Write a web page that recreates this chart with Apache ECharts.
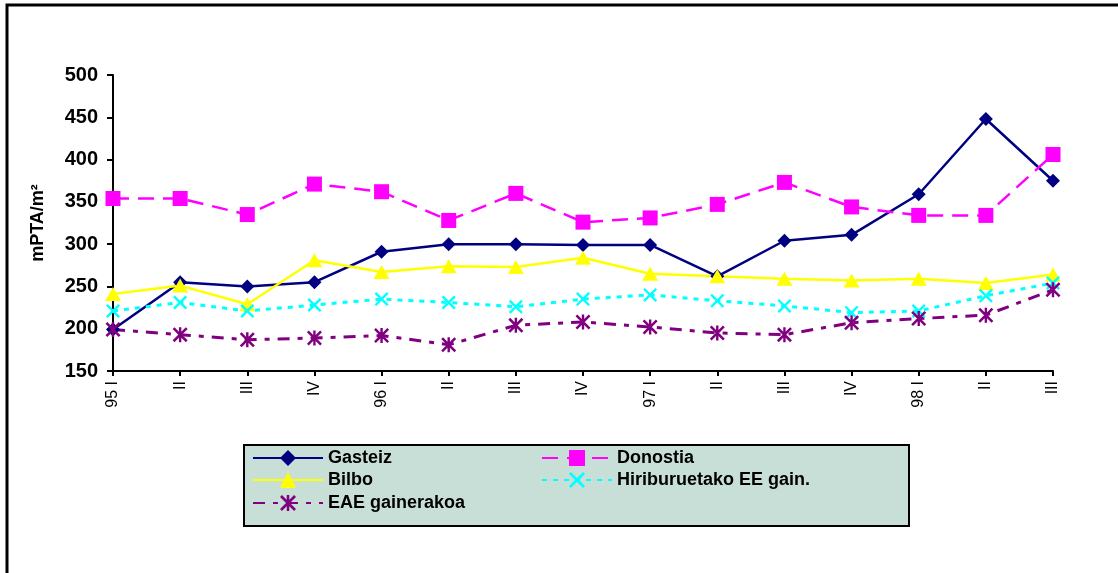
<!DOCTYPE html>
<html>
<head>
<meta charset="utf-8">
<script src="https://cdn.jsdelivr.net/npm/echarts@6/dist/echarts.min.js"></script>
<style>
html,body{margin:0;padding:0;background:#fff;}
#chart{width:1118px;height:573px;}
</style>
</head>
<body>
<div id="chart"></div>
<script>
const categories = ['95 I','II','III','IV','96 I','II','III','IV','97 I','II','III','IV','98 I','II','III'];
const gasteiz = [199, 255, 250, 255, 291, 300, 300, 299, 299, 262, 304, 311, 359, 448, 375];
const donostia = [354, 354, 335, 371, 362, 328, 360, 326, 331, 347, 373, 344, 334, 334, 406];
const bilbo = [241, 251, 229, 281, 267, 274, 273, 284, 265, 262, 259, 257, 259, 254, 264];
const hiriburuetako = [221, 231, 221, 228, 235, 231, 226, 235, 240, 233, 227, 219, 221, 239, 254];
const eae = [199, 193, 187, 189, 192, 181, 204, 208, 202, 195, 193, 207, 212, 216, 246];
const yTicks = {min: 150, max: 500, interval: 50};
const names = ['Gasteiz', 'Donostia', 'Bilbo', 'Hiriburuetako EE gain.', 'EAE gainerakoa'];

const FONT = '"Liberation Sans", Arial, sans-serif';
const xPath = 'path://M0,12L12,0L100,88L88,100Z M88,0L100,12L12,100L0,88Z';
const starPath = 'path://M0,12L12,0L100,88L88,100Z M88,0L100,12L12,100L0,88Z M42,0L58,0L58,100L42,100Z';

const chart = echarts.init(document.getElementById('chart'), null, {renderer: 'canvas'});

function legendAt(name, left, centerY) {
  return {
    data: [name], left: left, top: centerY - 10, orient: 'horizontal',
    itemWidth: 70, itemHeight: 20, itemGap: 0, padding: 0, selectedMode: false,
    textStyle: {fontFamily: FONT, fontSize: 18, fontWeight: 'bold', color: '#000'},
    z: 10
  };
}

const option = {
  animation: false,
  backgroundColor: '#fff',
  graphic: [
    {type: 'rect', shape: {x: 7, y: 5, width: 2000, height: 1000}, style: {fill: 'none', stroke: '#000', lineWidth: 3}, z: 1},
    {type: 'rect', shape: {x: 244, y: 445, width: 665, height: 81}, style: {fill: '#C8DFD7', stroke: '#000', lineWidth: 2}, z: 1}
  ],
  legend: [
    legendAt(names[0], 252, 459),
    legendAt(names[2], 252, 481),
    legendAt(names[4], 252, 504),
    legendAt(names[1], 541, 459),
    legendAt(names[3], 541, 481)
  ],
  grid: {left: 113, top: 75, right: 65, bottom: 202, containLabel: false},
  xAxis: {
    type: 'category', data: categories, boundaryGap: false,
    axisLine: {lineStyle: {color: '#000', width: 2}},
    axisTick: {show: true, length: 5, lineStyle: {color: '#000', width: 2}, alignWithLabel: true},
    axisLabel: {rotate: 90, interval: 0, margin: 10, fontFamily: FONT, fontSize: 16, color: '#000'},
    splitLine: {show: false}
  },
  yAxis: {
    type: 'value', min: yTicks.min, max: yTicks.max, interval: yTicks.interval,
    name: 'mPTA/m²', nameLocation: 'middle', nameGap: 66, nameRotate: 90,
    nameTextStyle: {fontFamily: FONT, fontSize: 18, fontWeight: 'bold', color: '#000'},
    axisLine: {show: true, lineStyle: {color: '#000', width: 2}},
    axisTick: {show: true, length: 6, lineStyle: {color: '#000', width: 2}},
    axisLabel: {margin: 15, fontFamily: FONT, fontSize: 20, fontWeight: 'bold', color: '#000'},
    splitLine: {show: false}
  },
  series: [
    {name: names[0], type: 'line', data: gasteiz, symbol: 'diamond', symbolSize: 14,
     lineStyle: {color: '#000080', width: 2.5, type: 'solid'}, itemStyle: {color: '#000080'}},
    {name: names[1], type: 'line', data: donostia, symbol: 'rect', symbolSize: 15,
     lineStyle: {color: '#FF00FF', width: 2.5, type: [16, 9]}, itemStyle: {color: '#FF00FF'}},
    {name: names[2], type: 'line', data: bilbo, symbol: 'triangle', symbolSize: [16, 14],
     lineStyle: {color: '#FFFF00', width: 2.5, type: 'solid'}, itemStyle: {color: '#FFFF00'}},
    {name: names[3], type: 'line', data: hiriburuetako, symbol: xPath, symbolSize: 14,
     lineStyle: {color: '#00FFFF', width: 3, type: [5, 6]}, itemStyle: {color: '#00FFFF'}},
    {name: names[4], type: 'line', data: eae, symbol: starPath, symbolSize: 15,
     lineStyle: {color: '#800080', width: 3, type: [12, 8, 5, 8]}, itemStyle: {color: '#800080'}}
  ]
};
chart.setOption(option);
</script>
</body>
</html>
